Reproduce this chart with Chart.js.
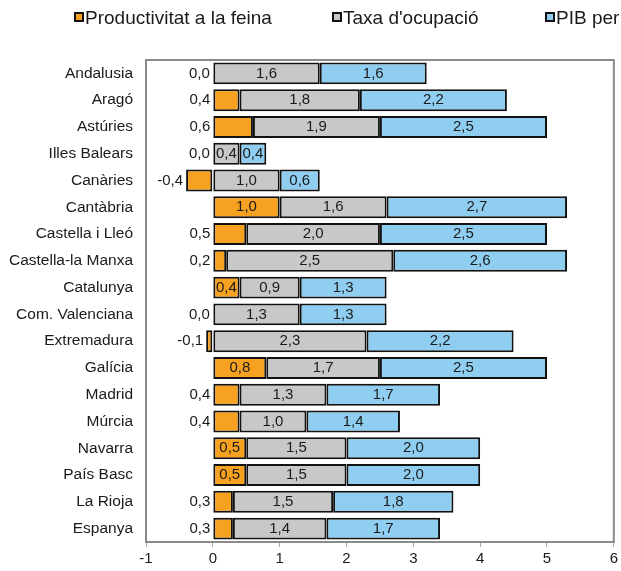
<!DOCTYPE html>
<html>
<head>
<meta charset="utf-8">
<script src="https://cdn.jsdelivr.net/npm/chart.js@4.4.1/dist/chart.umd.min.js"></script>
<style>
  html, body { margin: 0; padding: 0; background: #fff; overflow: hidden; }
  #wrap { position: relative; width: 621px; height: 571px; overflow: hidden; }
  #legend { position: absolute; top: 7px; left: 0; width: 800px; height: 24px; white-space: nowrap;
            font-family: "Liberation Sans", Arial, sans-serif; font-size: 19px; color: #1a1a1a; }
  #legend span.item { position: absolute; top: 0; line-height: 22px; }
  #legend i { display: inline-block; width: 6px; height: 6px; border: 2px solid #111; margin-right: 1px; vertical-align: 2px; }
</style>
</head>
<body>
<div id="wrap">
  <div id="legend"></div>
  <canvas id="myChart" width="621" height="571"></canvas>
</div>
<script>
// categories (regions)
const categories = ["Andalusia", "Aragó", "Astúries", "Illes Balears", "Canàries", "Cantàbria",
  "Castella i Lleó", "Castella-la Manxa", "Catalunya", "Com. Valenciana", "Extremadura", "Galícia",
  "Madrid", "Múrcia", "Navarra", "País Basc", "La Rioja", "Espanya"];

// series values
const productivitat = [0.0, 0.4, 0.6, 0.0, -0.4, 1.0, 0.5, 0.2, 0.4, 0.0, -0.1, 0.8, 0.4, 0.4, 0.5, 0.5, 0.3, 0.3];
const taxaOcupacio  = [1.6, 1.8, 1.9, 0.4, 1.0, 1.6, 2.0, 2.5, 0.9, 1.3, 2.3, 1.7, 1.3, 1.0, 1.5, 1.5, 1.5, 1.4];
const pibPerCapita  = [1.6, 2.2, 2.5, 0.4, 0.6, 2.7, 2.5, 2.6, 1.3, 1.3, 2.2, 2.5, 1.7, 1.4, 2.0, 2.0, 1.8, 1.7];

const seriesNames = ["Productivitat a la feina", "Taxa d'ocupació", "PIB per càpita"];
const xTicks = [-1, 0, 1, 2, 3, 4, 5, 6];

// regions whose productivity label sits inside the bar
const insideLabel = ["Cantàbria", "Catalunya", "Galícia", "Navarra", "País Basc"];

const colors = ["#F6A11F", "#C8C8C8", "#8FCEF0"];
const FONT = '"Liberation Sans", Arial, sans-serif';

// html legend (runs past the right edge like the original)
const legendLeft = [74, 332, 545];
const legendDiv = document.getElementById("legend");
seriesNames.forEach((name, i) => {
  const s = document.createElement("span");
  s.className = "item";
  s.style.left = legendLeft[i] + "px";
  s.innerHTML = '<i style="background:' + colors[i] + '"></i>' + name;
  legendDiv.appendChild(s);
});

const fmt = v => v.toFixed(1).replace(".", ",");

// draws the value labels and the plot frame
const labelPlugin = {
  id: "valueLabels",
  afterDatasetsDraw(chart) {
    const ctx = chart.ctx;
    const area = chart.chartArea;
    ctx.save();
    ctx.strokeStyle = "#8a8a8a";
    ctx.lineWidth = 2;
    ctx.strokeRect(area.left, area.top, area.right - area.left, area.bottom - area.top);

    ctx.font = "15px " + FONT;
    ctx.fillStyle = "#1a1a1a";
    ctx.textBaseline = "middle";
    chart.data.datasets.forEach((ds, di) => {
      const meta = chart.getDatasetMeta(di);
      meta.data.forEach((bar, i) => {
        const v = ds.data[i];
        const left = Math.min(bar.x, bar.base);
        const right = Math.max(bar.x, bar.base);
        if (di === 0 && !insideLabel.includes(categories[i])) {
          ctx.textAlign = "right";
          ctx.fillText(fmt(v), left - 3, bar.y);
        } else {
          ctx.textAlign = "center";
          ctx.fillText(fmt(v), (left + right) / 2, bar.y);
        }
      });
    });
    ctx.restore();
  }
};

const ctx = document.getElementById("myChart").getContext("2d");
const myChart = new Chart(ctx, {
  type: "bar",
  data: {
    labels: categories,
    datasets: [
      { label: seriesNames[0], data: productivitat, backgroundColor: colors[0] },
      { label: seriesNames[1], data: taxaOcupacio, backgroundColor: colors[1] },
      { label: seriesNames[2], data: pibPerCapita, backgroundColor: colors[2] }
    ].map(d => Object.assign(d, {
      borderColor: "#111",
      borderWidth: 2,
      borderSkipped: false,
      barPercentage: 0.82,
      categoryPercentage: 1.0
    }))
  },
  options: {
    indexAxis: "y",
    responsive: false,
    animation: false,
    layout: { padding: { left: 0, top: 60, right: 3, bottom: 0 } },
    plugins: {
      legend: { display: false },
      tooltip: { enabled: false }
    },
    scales: {
      x: {
        stacked: true,
        min: -1,
        max: 6,
        afterBuildTicks: scale => { scale.ticks = xTicks.map(v => ({ value: v })); },
        afterFit: scale => { scale.height = 29; },
        grid: { drawOnChartArea: false, tickLength: 5, color: "#aaa" },
        border: { display: false },
        ticks: {
          padding: 3,
          color: "#1a1a1a",
          font: { family: FONT, size: 15 },
          callback: v => String(v)
        }
      },
      y: {
        stacked: true,
        afterFit: scale => { scale.width = 146; },
        grid: { display: false, drawTicks: false },
        border: { display: false },
        ticks: {
          padding: 13,
          color: "#1a1a1a",
          font: { family: FONT, size: 15.5 }
        }
      }
    }
  },
  plugins: [labelPlugin]
});
</script>
</body>
</html>
